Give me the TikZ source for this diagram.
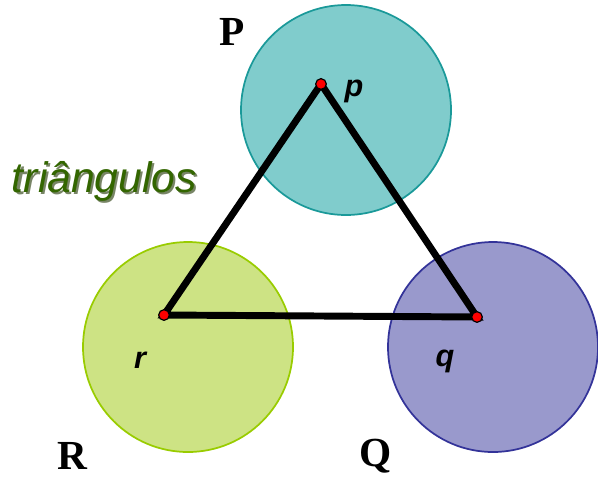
\documentclass[tikz,border=0pt]{standalone}
\usepackage{fontspec}
\setmainfont{Liberation Serif}
\newfontfamily\lsans{Liberation Sans}
\definecolor{tealfill}{HTML}{80CCCC}
\definecolor{tealline}{HTML}{1A9999}
\definecolor{greenfill}{HTML}{CDE384}
\definecolor{greenline}{HTML}{99CC00}
\definecolor{purplefill}{HTML}{9999CC}
\definecolor{purpleline}{HTML}{333399}
\definecolor{txtgreen}{HTML}{336600}
\definecolor{shadowgreen}{HTML}{1E3300}
\tikzset{
  x=0.75pt, y=-0.75pt,
  region/.style={circle, draw, line width=1.3pt, minimum size=157.5pt, inner sep=0pt},
  vertex/.style={circle, fill=red, draw=black, line width=0.9pt, minimum size=8pt, inner sep=0pt},
  edge/.style={line width=5.2pt, line join=miter},
  biglabel/.style={font=\fontsize{31}{31}\selectfont\bfseries},
  smalllabel/.style={font=\lsans\fontsize{23}{23}\selectfont\bfseries\itshape},
}
\begin{document}
\begin{tikzpicture}
\useasboundingbox (0,0) rectangle (598,479);
\node[region, fill=tealfill, draw=tealline] (P) at (346,110) {};
\node[region, fill=greenfill, draw=greenline] (R) at (188,347) {};
\node[region, fill=purplefill, draw=purpleline] (Q) at (493,347) {};
\coordinate (p) at (321,84);
\coordinate (r) at (164,315);
\coordinate (q) at (477,317);
\draw[edge] (p) -- (q) -- (r) -- cycle;
\node[vertex] (pv) at (p) {};
\node[vertex] (rv) at (r) {};
\node[vertex] (qv) at (q) {};
\node[biglabel] (Pl) at (232,32) {P};
\node[biglabel] (Rl) at (72,456) {R};
\node[biglabel] (Ql) at (376,456) {Q};
\node[smalllabel] (pl) at (354,91) {p};
\node[smalllabel] (rl) at (140,360) {r};
\node[smalllabel] (ql) at (445,361) {q};
\node[font=\lsans\fontsize{32}{32}\selectfont\itshape, text=shadowgreen, opacity=0.6] (tsh) at (106.5,183) {triângulos};
\node[font=\lsans\fontsize{32}{32}\selectfont\itshape, text=txtgreen] (t) at (104.5,181) {triângulos};
\end{tikzpicture}
\end{document}
